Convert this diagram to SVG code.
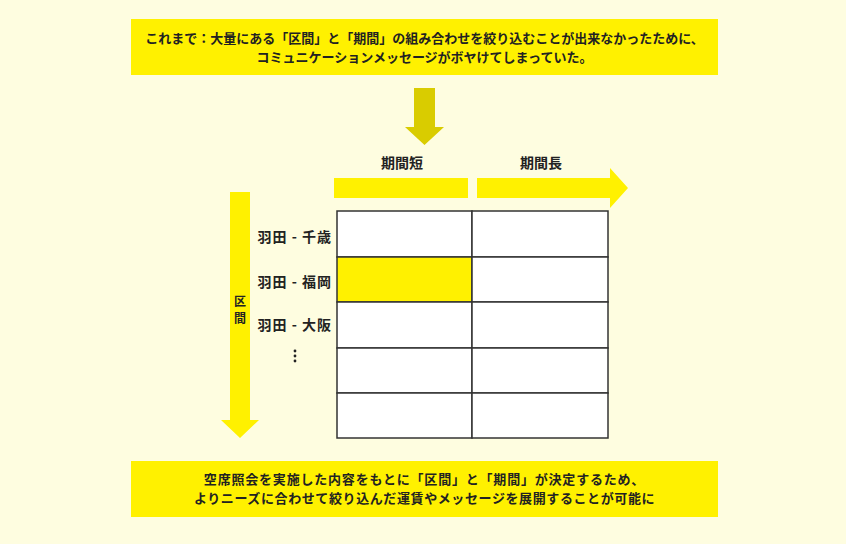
<svg xmlns="http://www.w3.org/2000/svg" width="846" height="544" viewBox="0 0 846 544">
<style>
  text { font-family: "Noto Sans CJK JP", "Noto Sans", sans-serif; font-weight: bold; fill: #222; }
  .box { fill: #FFF100; }
  .cell { fill: #FFFFFF; stroke: #333; stroke-width: 1.5; }
  .hl { fill: #FFF100; }
  .arrow { fill: #FFF100; }
  .down { fill: #D9CC00; }
  .lbl { font-size: 14px; }
  .row { font-size: 14px; letter-spacing: 1px; }
</style>
<rect width="846" height="544" fill="#FEFDE0"/>

<g id="top-note">
  <rect class="box" x="131" y="19" width="587" height="56"/>
  <text x="424.5" y="43" font-size="13" text-anchor="middle">これまで：大量にある「区間」と「期間」の組み合わせを絞り込むことが出来なかったために、</text>
  <text x="424.5" y="62" font-size="13" text-anchor="middle">コミュニケーションメッセージがボヤけてしまっていた。</text>
</g>

<g id="bottom-note">
  <rect class="box" x="131" y="461" width="587" height="56"/>
  <text x="424.5" y="484" font-size="13" letter-spacing="0.8" text-anchor="middle">空席照会を実施した内容をもとに「区間」と「期間」が決定するため、</text>
  <text x="424.5" y="503" font-size="13" letter-spacing="0.6" text-anchor="middle">よりニーズに合わせて絞り込んだ運賃やメッセージを展開することが可能に</text>
</g>

<g id="connectors">
  <polygon class="down" points="414,88 435,88 435,127 444,127 424.5,145 405,127 414,127"/>
  <rect class="arrow" x="334" y="178" width="134" height="20"/>
  <polygon class="arrow" points="477,178 610,178 610,168 628,188 610,208 610,198 477,198"/>
  <polygon class="arrow" points="230,192 250,192 250,420 259,420 240,438 221,420 230,420"/>
</g>

<g id="axis-labels">
  <text class="lbl" x="402" y="168" text-anchor="middle">期間短</text>
  <text class="lbl" x="541" y="168" text-anchor="middle">期間長</text>
  <text x="240" y="306" font-size="12" text-anchor="middle">区</text>
  <text x="240" y="323" font-size="12" text-anchor="middle">間</text>
</g>

<g id="row-labels">
  <text class="row" x="332" y="242" text-anchor="end">羽田 - 千歳</text>
  <text class="row" x="332" y="287" text-anchor="end">羽田 - 福岡</text>
  <text class="row" x="332" y="330" text-anchor="end">羽田 - 大阪</text>
  <g fill="#222">
    <circle cx="295" cy="351" r="1.4"/>
    <circle cx="295" cy="356" r="1.4"/>
    <circle cx="295" cy="361" r="1.4"/>
  </g>
</g>

<g id="matrix">
  <rect class="cell" x="337" y="211" width="135" height="46"/>
  <rect class="cell" x="472" y="211" width="136" height="46"/>
  <rect class="cell hl" x="337" y="257" width="135" height="45"/>
  <rect class="cell" x="472" y="257" width="136" height="45"/>
  <rect class="cell" x="337" y="302" width="135" height="46"/>
  <rect class="cell" x="472" y="302" width="136" height="46"/>
  <rect class="cell" x="337" y="348" width="135" height="45"/>
  <rect class="cell" x="472" y="348" width="136" height="45"/>
  <rect class="cell" x="337" y="393" width="135" height="45"/>
  <rect class="cell" x="472" y="393" width="136" height="45"/>
</g>
</svg>
